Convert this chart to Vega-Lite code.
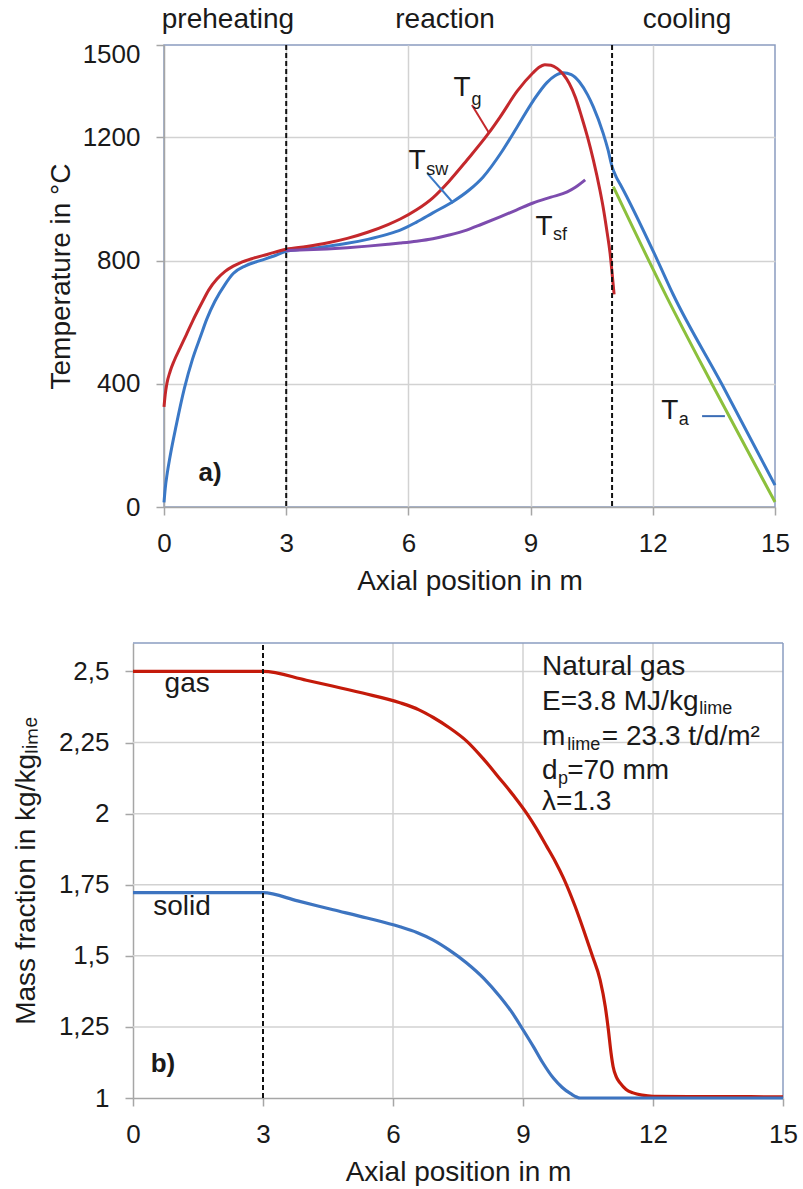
{
  "$schema": "https://vega.github.io/schema/vega-lite/v6.json",
  "padding": {"left": 0, "top": 6, "right": 0, "bottom": 0},
  "config": {
    "font": "Liberation Sans",
    "view": {"stroke": "#8a9cc0", "strokeWidth": 1.5},
    "text": {"color": "#1a1a1a"},
    "axis": {
      "labelFontSize": 26, "titleFontSize": 28, "labelColor": "#1a1a1a", "titleColor": "#1a1a1a",
      "titleFontWeight": "normal", "gridColor": "#d2d2d2", "gridWidth": 1.5,
      "domainColor": "#a6a6a6", "domainWidth": 1.5, "tickColor": "#a6a6a6", "tickWidth": 1.5, "tickSize": 8,
      "labelFlush": false, "labelOverlap": false
    }
  },
  "datasets": {
    "temp": [
      {"x": 0, "T": 15, "series": "Tsw"}, {"x": 0.03, "T": 60, "series": "Tsw"}, {"x": 0.08, "T": 110, "series": "Tsw"},
      {"x": 0.15, "T": 165, "series": "Tsw"}, {"x": 0.3, "T": 265, "series": "Tsw"}, {"x": 0.5, "T": 385, "series": "Tsw"},
      {"x": 0.7, "T": 480, "series": "Tsw"}, {"x": 0.9, "T": 555, "series": "Tsw"}, {"x": 1.05, "T": 610, "series": "Tsw"},
      {"x": 1.25, "T": 668, "series": "Tsw"}, {"x": 1.5, "T": 723, "series": "Tsw"}, {"x": 1.7, "T": 758, "series": "Tsw"},
      {"x": 2.0, "T": 783, "series": "Tsw"}, {"x": 2.36, "T": 800, "series": "Tsw"}, {"x": 2.7, "T": 815, "series": "Tsw"},
      {"x": 3.0, "T": 830, "series": "Tsw"}, {"x": 3.5, "T": 838, "series": "Tsw"}, {"x": 4.0, "T": 846, "series": "Tsw"},
      {"x": 4.5, "T": 856, "series": "Tsw"}, {"x": 5.0, "T": 869, "series": "Tsw"}, {"x": 5.5, "T": 886, "series": "Tsw"},
      {"x": 5.8, "T": 899, "series": "Tsw"}, {"x": 6.2, "T": 925, "series": "Tsw"}, {"x": 6.6, "T": 955, "series": "Tsw"},
      {"x": 7.1, "T": 992, "series": "Tsw"}, {"x": 7.5, "T": 1030, "series": "Tsw"}, {"x": 7.83, "T": 1071, "series": "Tsw"},
      {"x": 8.3, "T": 1155, "series": "Tsw"}, {"x": 8.67, "T": 1234, "series": "Tsw"}, {"x": 9.06, "T": 1318, "series": "Tsw"},
      {"x": 9.4, "T": 1378, "series": "Tsw"}, {"x": 9.6, "T": 1400, "series": "Tsw"}, {"x": 9.8, "T": 1410, "series": "Tsw"},
      {"x": 10.0, "T": 1404, "series": "Tsw"}, {"x": 10.2, "T": 1380, "series": "Tsw"}, {"x": 10.4, "T": 1338, "series": "Tsw"},
      {"x": 10.54, "T": 1299, "series": "Tsw"}, {"x": 10.78, "T": 1214, "series": "Tsw"}, {"x": 10.9, "T": 1160, "series": "Tsw"},
      {"x": 11.0, "T": 1105, "series": "Tsw"}, {"x": 11.1, "T": 1072, "series": "Tsw"}, {"x": 11.2, "T": 1048, "series": "Tsw"},
      {"x": 12.1, "T": 805, "series": "Tsw"}, {"x": 12.5, "T": 690, "series": "Tsw"}, {"x": 13.69, "T": 400, "series": "Tsw"},
      {"x": 15, "T": 71, "series": "Tsw"},

      {"x": 0, "T": 325, "series": "Tg"}, {"x": 0.03, "T": 365, "series": "Tg"}, {"x": 0.07, "T": 400, "series": "Tg"},
      {"x": 0.15, "T": 440, "series": "Tg"}, {"x": 0.25, "T": 475, "series": "Tg"}, {"x": 0.39, "T": 515, "series": "Tg"},
      {"x": 0.55, "T": 560, "series": "Tg"}, {"x": 0.7, "T": 603, "series": "Tg"}, {"x": 0.93, "T": 663, "series": "Tg"},
      {"x": 1.1, "T": 705, "series": "Tg"}, {"x": 1.3, "T": 740, "series": "Tg"}, {"x": 1.5, "T": 765, "series": "Tg"},
      {"x": 1.7, "T": 782, "series": "Tg"}, {"x": 1.87, "T": 793, "series": "Tg"}, {"x": 2.2, "T": 808, "series": "Tg"},
      {"x": 2.53, "T": 820, "series": "Tg"}, {"x": 3.0, "T": 837, "series": "Tg"}, {"x": 3.5, "T": 846, "series": "Tg"},
      {"x": 4.0, "T": 857, "series": "Tg"}, {"x": 4.5, "T": 872, "series": "Tg"}, {"x": 5.0, "T": 892, "series": "Tg"},
      {"x": 5.5, "T": 917, "series": "Tg"}, {"x": 5.8, "T": 935, "series": "Tg"}, {"x": 6.2, "T": 965, "series": "Tg"},
      {"x": 6.6, "T": 1004, "series": "Tg"}, {"x": 7.0, "T": 1058, "series": "Tg"}, {"x": 7.43, "T": 1125, "series": "Tg"},
      {"x": 7.96, "T": 1212, "series": "Tg"}, {"x": 8.25, "T": 1266, "series": "Tg"}, {"x": 8.67, "T": 1350, "series": "Tg"},
      {"x": 9.06, "T": 1410, "series": "Tg"}, {"x": 9.2, "T": 1427, "series": "Tg"}, {"x": 9.35, "T": 1436, "series": "Tg"},
      {"x": 9.5, "T": 1434, "series": "Tg"}, {"x": 9.65, "T": 1424, "series": "Tg"}, {"x": 9.8, "T": 1405, "series": "Tg"},
      {"x": 9.95, "T": 1375, "series": "Tg"}, {"x": 10.1, "T": 1330, "series": "Tg"}, {"x": 10.25, "T": 1268, "series": "Tg"},
      {"x": 10.4, "T": 1200, "series": "Tg"}, {"x": 10.54, "T": 1127, "series": "Tg"}, {"x": 10.7, "T": 1030, "series": "Tg"},
      {"x": 10.78, "T": 974, "series": "Tg"}, {"x": 10.88, "T": 890, "series": "Tg"}, {"x": 10.95, "T": 825, "series": "Tg"},
      {"x": 11.0, "T": 760, "series": "Tg"}, {"x": 11.05, "T": 690, "series": "Tg"},

      {"x": 3.0, "T": 833, "series": "Tsf"}, {"x": 3.5, "T": 835, "series": "Tsf"}, {"x": 4.0, "T": 838, "series": "Tsf"},
      {"x": 4.5, "T": 842, "series": "Tsf"}, {"x": 5.0, "T": 847, "series": "Tsf"}, {"x": 5.5, "T": 853, "series": "Tsf"},
      {"x": 5.8, "T": 857, "series": "Tsf"}, {"x": 6.2, "T": 863, "series": "Tsf"}, {"x": 6.6, "T": 871, "series": "Tsf"},
      {"x": 7.0, "T": 883, "series": "Tsf"}, {"x": 7.43, "T": 899, "series": "Tsf"}, {"x": 7.8, "T": 918, "series": "Tsf"},
      {"x": 8.25, "T": 942, "series": "Tsf"}, {"x": 8.65, "T": 964, "series": "Tsf"}, {"x": 9.06, "T": 987, "series": "Tsf"},
      {"x": 9.5, "T": 1006, "series": "Tsf"}, {"x": 9.9, "T": 1023, "series": "Tsf"}, {"x": 10.1, "T": 1038, "series": "Tsf"},
      {"x": 10.34, "T": 1062, "series": "Tsf"},

      {"x": 11.03, "T": 1040, "series": "Ta"}, {"x": 12.35, "T": 680, "series": "Ta"}, {"x": 13.45, "T": 400, "series": "Ta"},
      {"x": 15, "T": 16, "series": "Ta"}
    ],
    "mass": [
      {"x": 0, "v": 2.5, "phase": "gas"}, {"x": 3, "v": 2.5, "phase": "gas"}, {"x": 4, "v": 2.469, "phase": "gas"},
      {"x": 4.6, "v": 2.449, "phase": "gas"}, {"x": 5.3, "v": 2.424, "phase": "gas"}, {"x": 6.16, "v": 2.39, "phase": "gas"},
      {"x": 6.6, "v": 2.365, "phase": "gas"}, {"x": 6.93, "v": 2.338, "phase": "gas"}, {"x": 7.3, "v": 2.302, "phase": "gas"},
      {"x": 7.7, "v": 2.255, "phase": "gas"}, {"x": 8.1, "v": 2.19, "phase": "gas"}, {"x": 8.47, "v": 2.122, "phase": "gas"},
      {"x": 8.8, "v": 2.06, "phase": "gas"}, {"x": 9.09, "v": 2.0, "phase": "gas"}, {"x": 9.3, "v": 1.95, "phase": "gas"},
      {"x": 9.55, "v": 1.884, "phase": "gas"}, {"x": 9.75, "v": 1.83, "phase": "gas"}, {"x": 9.93, "v": 1.775, "phase": "gas"},
      {"x": 10.2, "v": 1.675, "phase": "gas"}, {"x": 10.4, "v": 1.59, "phase": "gas"}, {"x": 10.6, "v": 1.5, "phase": "gas"},
      {"x": 10.78, "v": 1.415, "phase": "gas"}, {"x": 10.9, "v": 1.32, "phase": "gas"}, {"x": 10.97, "v": 1.24, "phase": "gas"},
      {"x": 11.03, "v": 1.16, "phase": "gas"}, {"x": 11.08, "v": 1.11, "phase": "gas"}, {"x": 11.15, "v": 1.075, "phase": "gas"},
      {"x": 11.24, "v": 1.053, "phase": "gas"}, {"x": 11.38, "v": 1.03, "phase": "gas"}, {"x": 11.54, "v": 1.018, "phase": "gas"},
      {"x": 11.75, "v": 1.01, "phase": "gas"}, {"x": 12.0, "v": 1.006, "phase": "gas"}, {"x": 13.5, "v": 1.005, "phase": "gas"},
      {"x": 15, "v": 1.004, "phase": "gas"},

      {"x": 0, "v": 1.722, "phase": "solid"}, {"x": 3, "v": 1.722, "phase": "solid"}, {"x": 3.8, "v": 1.693, "phase": "solid"},
      {"x": 4.62, "v": 1.662, "phase": "solid"}, {"x": 5.4, "v": 1.633, "phase": "solid"}, {"x": 6.16, "v": 1.602, "phase": "solid"},
      {"x": 6.55, "v": 1.582, "phase": "solid"}, {"x": 6.92, "v": 1.556, "phase": "solid"}, {"x": 7.3, "v": 1.52, "phase": "solid"},
      {"x": 7.7, "v": 1.475, "phase": "solid"}, {"x": 8.1, "v": 1.42, "phase": "solid"}, {"x": 8.47, "v": 1.356, "phase": "solid"},
      {"x": 8.75, "v": 1.3, "phase": "solid"}, {"x": 9.0, "v": 1.24, "phase": "solid"}, {"x": 9.25, "v": 1.178, "phase": "solid"},
      {"x": 9.46, "v": 1.123, "phase": "solid"}, {"x": 9.7, "v": 1.07, "phase": "solid"}, {"x": 9.9, "v": 1.038, "phase": "solid"},
      {"x": 10.1, "v": 1.015, "phase": "solid"}, {"x": 10.32, "v": 1.0, "phase": "solid"}, {"x": 15, "v": 1.0, "phase": "solid"}
    ]
  },
  "width": 611,
  "height": 462,
  "resolve": {
    "scale": {"x": "independent", "y": "independent", "color": "independent"},
    "axis": {"x": "independent", "y": "independent"}
  },
  "layer": [
    {
      "resolve": {"scale": {"color": "independent"}},
      "layer": [
        {
          "data": {"name": "temp"},
          "mark": {"type": "line", "strokeWidth": 3, "interpolate": "monotone"},
          "encoding": {
            "x": {"field": "x", "type": "quantitative", "scale": {"domain": [0, 15], "nice": false, "zero": false},
              "axis": {"orient": "bottom", "title": "Axial position in m", "values": [0, 3, 6, 9, 12, 15], "grid": true,
                "gridOpacity": {"condition": {"test": "datum.value === 15 || datum.value === 0", "value": 0}, "value": 1},
                "labelPadding": 15, "titlePadding": 11}},
            "y": {"field": "T", "type": "quantitative", "scale": {"domain": [0, 1500], "nice": false},
              "axis": {"orient": "left", "title": "Temperature in °C", "values": [0, 400, 800, 1200, 1500], "grid": true, "format": "d",
                "gridOpacity": {"condition": {"test": "datum.value === 1500 || datum.value === 0", "value": 0}, "value": 1},
                "labelOffset": {"condition": {"test": "datum.value === 1500", "value": 9}, "value": 0},
                "labelPadding": 16, "titleX": -89}},
            "color": {"field": "series", "type": "nominal",
              "scale": {"domain": ["Tsw", "Tg", "Tsf", "Ta"], "range": ["#3a78c6", "#c4282c", "#7d4cae", "#8cc03c"]},
              "legend": null}
          }
        },
        {
          "data": {"values": [{"x": 3}, {"x": 11}]},
          "mark": {"type": "rule", "color": "#111111", "strokeWidth": 2, "strokeDash": [5, 3]},
          "encoding": {"x": {"field": "x", "type": "quantitative"}}
        },
        {
          "data": {"values": [
            {"x": 7.56, "T": 1305, "x2": 7.98, "T2": 1214, "lab": "Tg"},
            {"x": 6.46, "T": 1084, "x2": 7.1, "T2": 987, "lab": "Tsw"},
            {"x": 13.21, "T": 295, "x2": 13.77, "T2": 295, "lab": "Ta"}
          ]},
          "mark": {"type": "rule", "strokeWidth": 2},
          "encoding": {
            "x": {"field": "x", "type": "quantitative"}, "x2": {"field": "x2"},
            "y": {"field": "T", "type": "quantitative"}, "y2": {"field": "T2"},
            "color": {"field": "lab", "type": "nominal",
              "scale": {"domain": ["Tg", "Tsw", "Ta"], "range": ["#c4282c", "#3a78c6", "#3a6cb5"]}, "legend": null}
          }
        },
        {
          "data": {"values": [
            {"x": 1.57, "T": 1555, "t": "preheating"},
            {"x": 6.9, "T": 1555, "t": "reaction"},
            {"x": 12.84, "T": 1555, "t": "cooling"}
          ]},
          "mark": {"type": "text", "fontSize": 28, "align": "center", "baseline": "alphabetic"},
          "encoding": {"x": {"field": "x", "type": "quantitative"}, "y": {"field": "T", "type": "quantitative"}, "text": {"field": "t"}}
        },
        {
          "data": {"values": [
            {"x": 7.32, "T": 1360, "t": "T"},
            {"x": 6.21, "T": 1123, "t": "T"},
            {"x": 9.33, "T": 909, "t": "T"},
            {"x": 12.42, "T": 312, "t": "T"}
          ]},
          "mark": {"type": "text", "fontSize": 28, "align": "center", "baseline": "middle"},
          "encoding": {"x": {"field": "x", "type": "quantitative"}, "y": {"field": "T", "type": "quantitative"}, "text": {"field": "t"}}
        },
        {
          "data": {"values": [
            {"x": 7.55, "T": 1321, "t": "g"},
            {"x": 6.44, "T": 1094, "t": "sw"},
            {"x": 9.55, "T": 883, "t": "sf"},
            {"x": 12.64, "T": 282, "t": "a"}
          ]},
          "mark": {"type": "text", "fontSize": 18, "align": "left", "baseline": "middle"},
          "encoding": {"x": {"field": "x", "type": "quantitative"}, "y": {"field": "T", "type": "quantitative"}, "text": {"field": "t"}}
        },
        {
          "data": {"values": [{"x": 1.13, "T": 110, "t": "a)"}]},
          "mark": {"type": "text", "fontSize": 26, "fontWeight": "bold", "align": "center", "baseline": "middle"},
          "encoding": {"x": {"field": "x", "type": "quantitative"}, "y": {"field": "T", "type": "quantitative"}, "text": {"field": "t"}}
        }
      ]
    },
    {
      "layer": [
        {
          "data": {"values": [{"x": 6}, {"x": 9}, {"x": 12}]},
          "mark": {"type": "rule", "color": "#d2d2d2", "strokeWidth": 1.5},
          "encoding": {
            "x": {"field": "x", "type": "quantitative", "scale": {"domain": [0, 15], "nice": false, "zero": false, "range": [-31, 619]},
              "axis": {"orient": "bottom", "offset": 591, "title": "Axial position in m", "values": [0, 3, 6, 9, 12, 15], "grid": false,
                "labelPadding": 15, "titlePadding": 11}},
            "y": {"datum": 1, "type": "quantitative", "scale": {"domain": [1, 2.6], "nice": false, "zero": false, "range": [1053, 598]},
              "axis": {"orient": "left", "offset": 31, "title": "Mass fraction in kg/kgₗᵢₘₑ", "values": [1, 1.25, 1.5, 1.75, 2, 2.25, 2.5], "grid": false,
                "labelExpr": "replace(toString(datum.value), '.', ',')",
                "labelPadding": 16, "minExtent": 133, "titleX": -93}},
            "y2": {"datum": 2.6}
          }
        },
        {
          "data": {"values": [{"v": 1.25}, {"v": 1.5}, {"v": 1.75}, {"v": 2}, {"v": 2.25}, {"v": 2.5}]},
          "mark": {"type": "rule", "color": "#d2d2d2", "strokeWidth": 1.5},
          "encoding": {
            "x": {"datum": 0, "type": "quantitative"}, "x2": {"datum": 15},
            "y": {"field": "v", "type": "quantitative"}
          }
        },
        {
          "data": {"values": [{"x": 0, "v": 2.6, "x2": 15, "v2": 2.6}, {"x": 15, "v": 1, "x2": 15, "v2": 2.6}]},
          "mark": {"type": "rule", "color": "#8a9cc0", "strokeWidth": 1.5},
          "encoding": {
            "x": {"field": "x", "type": "quantitative"}, "x2": {"field": "x2"},
            "y": {"field": "v", "type": "quantitative"}, "y2": {"field": "v2"}
          }
        },
        {
          "data": {"name": "mass"},
          "mark": {"type": "line", "strokeWidth": 3.2, "interpolate": "monotone"},
          "encoding": {
            "x": {"field": "x", "type": "quantitative"},
            "y": {"field": "v", "type": "quantitative"},
            "color": {"field": "phase", "type": "nominal",
              "scale": {"domain": ["gas", "solid"], "range": ["#c41a0a", "#3d74c0"]}, "legend": null}
          }
        },
        {
          "data": {"values": [{"x": 3}]},
          "mark": {"type": "rule", "color": "#111111", "strokeWidth": 2, "strokeDash": [5, 3]},
          "encoding": {"x": {"field": "x", "type": "quantitative"}, "y": {"datum": 1, "type": "quantitative"}, "y2": {"datum": 2.6}}
        },
        {
          "data": {"values": [
            {"x": 1.25, "v": 2.426, "t": "gas"},
            {"x": 1.13, "v": 1.644, "t": "solid"}
          ]},
          "mark": {"type": "text", "fontSize": 28, "align": "center", "baseline": "alphabetic"},
          "encoding": {"x": {"field": "x", "type": "quantitative"}, "y": {"field": "v", "type": "quantitative"}, "text": {"field": "t"}}
        },
        {
          "data": {"values": [{"x": 0.69, "v": 1.12, "t": "b)"}]},
          "mark": {"type": "text", "fontSize": 26, "fontWeight": "bold", "align": "center", "baseline": "middle"},
          "encoding": {"x": {"field": "x", "type": "quantitative"}, "y": {"field": "v", "type": "quantitative"}, "text": {"field": "t"}}
        },
        {
          "data": {"values": [
            {"x": 9.44, "v": 2.486, "t": "Natural gas"},
            {"x": 9.44, "v": 2.366, "t": "E=3.8 MJ/kg"},
            {"x": 9.44, "v": 2.243, "t": "m"},
            {"x": 10.82, "v": 2.243, "t": "= 23.3 t/d/m²"},
            {"x": 9.44, "v": 2.123, "t": "d"},
            {"x": 10.02, "v": 2.123, "t": "=70 mm"},
            {"x": 9.44, "v": 2.011, "t": "λ=1.3"}
          ]},
          "mark": {"type": "text", "fontSize": 28, "align": "left", "baseline": "alphabetic"},
          "encoding": {"x": {"field": "x", "type": "quantitative"}, "y": {"field": "v", "type": "quantitative"}, "text": {"field": "t"}}
        },
        {
          "data": {"values": [
            {"x": 13.07, "v": 2.349, "t": "lime"},
            {"x": 10.02, "v": 2.225, "t": "lime"},
            {"x": 9.81, "v": 2.105, "t": "p"}
          ]},
          "mark": {"type": "text", "fontSize": 18, "align": "left", "baseline": "alphabetic"},
          "encoding": {"x": {"field": "x", "type": "quantitative"}, "y": {"field": "v", "type": "quantitative"}, "text": {"field": "t"}}
        }
      ]
    }
  ]
}
